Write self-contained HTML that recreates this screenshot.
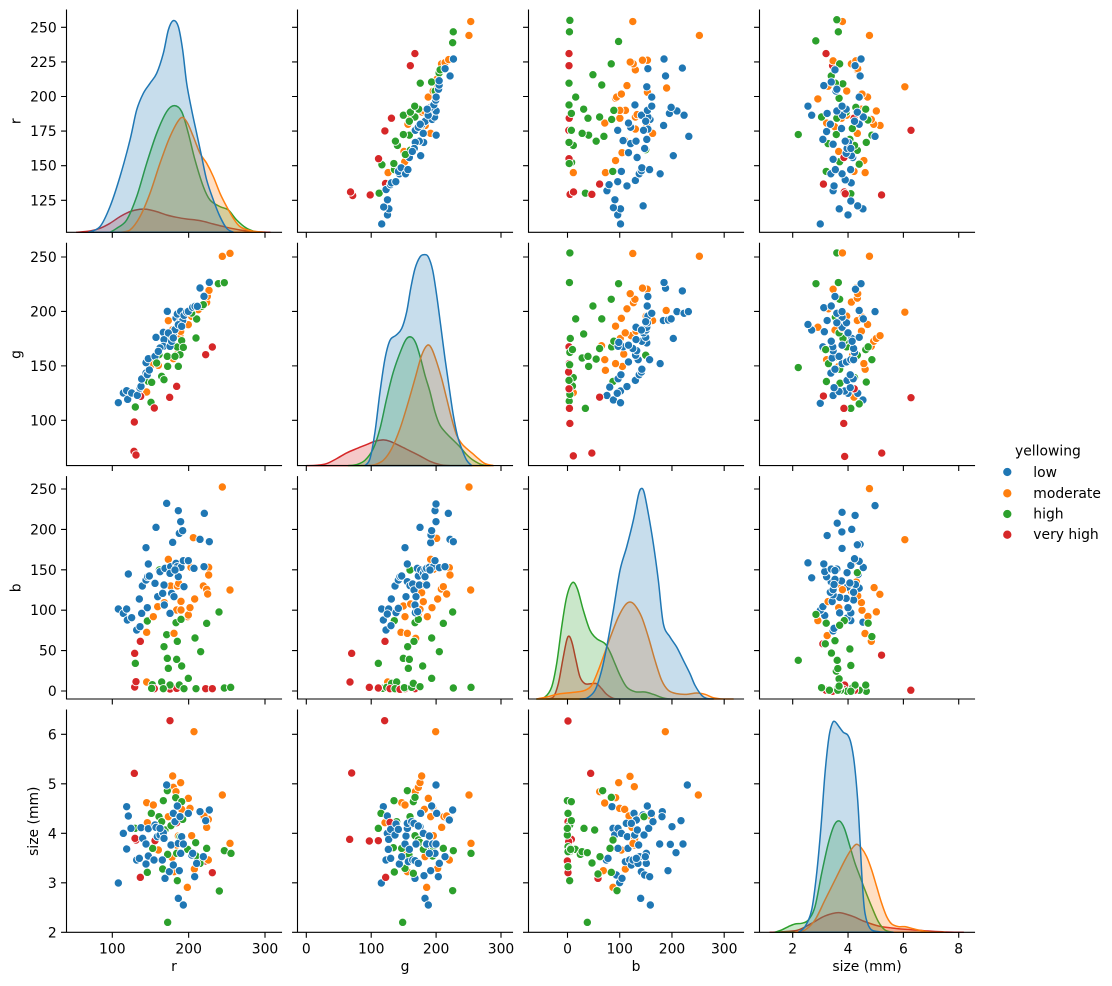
<!DOCTYPE html>
<html>
<head>
<meta charset="utf-8">
<style>
html,body{margin:0;padding:0;background:#fff;}
svg{display:block;}
text{font-family:"DejaVu Sans","Liberation Sans",sans-serif;font-size:13.9px;fill:#000;}
</style>
</head>
<body>
<svg id="c" xmlns="http://www.w3.org/2000/svg" width="1112" height="986" viewBox="0 0 1112 986">
<rect x="0" y="0" width="1112" height="986" fill="#fff"/>
<g id="plot"></g>
<g id="txt">
<!-- row 1 y tick labels -->
<text x="56.7" y="205.3" text-anchor="end">125</text>
<text x="56.7" y="170.7" text-anchor="end">150</text>
<text x="56.7" y="136.1" text-anchor="end">175</text>
<text x="56.7" y="101.5" text-anchor="end">200</text>
<text x="56.7" y="66.9" text-anchor="end">225</text>
<text x="56.7" y="32.3" text-anchor="end">250</text>
<!-- row 2 -->
<text x="56.7" y="425.3" text-anchor="end">100</text>
<text x="56.7" y="370.9" text-anchor="end">150</text>
<text x="56.7" y="316.4" text-anchor="end">200</text>
<text x="56.7" y="262" text-anchor="end">250</text>
<!-- row 3 -->
<text x="56.7" y="696" text-anchor="end">0</text>
<text x="56.7" y="655.6" text-anchor="end">50</text>
<text x="56.7" y="615.2" text-anchor="end">100</text>
<text x="56.7" y="574.8" text-anchor="end">150</text>
<text x="56.7" y="534.4" text-anchor="end">200</text>
<text x="56.7" y="494" text-anchor="end">250</text>
<!-- row 4 -->
<text x="56.7" y="937.3" text-anchor="end">2</text>
<text x="56.7" y="887.8" text-anchor="end">3</text>
<text x="56.7" y="838.3" text-anchor="end">4</text>
<text x="56.7" y="788.8" text-anchor="end">5</text>
<text x="56.7" y="739.3" text-anchor="end">6</text>
<!-- x tick labels -->
<text x="112.3" y="953.4" text-anchor="middle">100</text>
<text x="188.65" y="953.4" text-anchor="middle">200</text>
<text x="265" y="953.4" text-anchor="middle">300</text>
<text x="306.3" y="953.4" text-anchor="middle">0</text>
<text x="371.2" y="953.4" text-anchor="middle">100</text>
<text x="436.1" y="953.4" text-anchor="middle">200</text>
<text x="501" y="953.4" text-anchor="middle">300</text>
<text x="567.5" y="953.4" text-anchor="middle">0</text>
<text x="619.7" y="953.4" text-anchor="middle">100</text>
<text x="672" y="953.4" text-anchor="middle">200</text>
<text x="724.2" y="953.4" text-anchor="middle">300</text>
<text x="792.7" y="953.4" text-anchor="middle">2</text>
<text x="848" y="953.4" text-anchor="middle">4</text>
<text x="903.4" y="953.4" text-anchor="middle">6</text>
<text x="958.7" y="953.4" text-anchor="middle">8</text>
<!-- axis labels -->
<text x="174" y="971" text-anchor="middle">r</text>
<text x="405" y="971" text-anchor="middle">g</text>
<text x="636" y="971" text-anchor="middle">b</text>
<text x="867" y="971" text-anchor="middle">size (mm)</text>
<text x="20.3" y="121.2" text-anchor="middle" transform="rotate(-90 20.3 121.2)">r</text>
<text x="20.3" y="354.5" text-anchor="middle" transform="rotate(-90 20.3 354.5)">g</text>
<text x="20.3" y="587.8" text-anchor="middle" transform="rotate(-90 20.3 587.8)">b</text>
<text x="38" y="821.2" text-anchor="middle" transform="rotate(-90 38 821.2)">size (mm)</text>
<!-- legend -->
<text x="1015" y="455.5">yellowing</text>
<circle cx="1007.3" cy="472" r="4.6" fill="#1f77b4" stroke="#fff" stroke-width="0.9"/>
<circle cx="1007.3" cy="493.3" r="4.6" fill="#ff7f0e" stroke="#fff" stroke-width="0.9"/>
<circle cx="1007.3" cy="514" r="4.6" fill="#2ca02c" stroke="#fff" stroke-width="0.9"/>
<circle cx="1007.3" cy="534.7" r="4.6" fill="#d62728" stroke="#fff" stroke-width="0.9"/>
<text x="1033.3" y="476.9">low</text>
<text x="1033.3" y="497.9">moderate</text>
<text x="1033.3" y="518.5">high</text>
<text x="1033.3" y="539.2">very high</text>
</g>
</svg>
<script>
(function(){
var NS='http://www.w3.org/2000/svg';
var G=document.getElementById('plot');
function el(tag,attrs){var e=document.createElementNS(NS,tag);for(var k in attrs)e.setAttribute(k,attrs[k]);G.appendChild(e);return e;}
var C=['#1f77b4','#ff7f0e','#2ca02c','#d62728'];
var L=[66.5,297.5,528.5,759.5],T=[10,243.3,476.7,710],W=215,H=222.3;
var X=[function(v){return 112.3+(v-100)*0.7635;},function(v){return 306.3+v*0.649;},function(v){return 567.5+v*0.5223;},function(v){return 792.7+(v-2)*27.67;}];
var Xi=[function(p){return 100+(p-112.3)/0.7635;},function(p){return (p-306.3)/0.649;},function(p){return (p-567.5)/0.5223;},function(p){return 2+(p-792.7)/27.67;}];
var Y=[function(v){return 27.3+(250-v)*1.384;},function(v){return 257+(250-v)*1.0887;},function(v){return 691-v*0.808;},function(v){return 932.3-(v-2)*49.5;}];
var Yi=[function(p){return 250-(p-27.3)/1.384;},function(p){return 250-(p-257)/1.0887;},function(p){return (691-p)/0.808;},function(p){return 2+(932.3-p)/49.5;}];
var RT=[[125,150,175,200,225,250],[100,150,200,250],[0,50,100,150,200,250],[2,3,4,5,6]];
var CT=[[100,200,300],[0,100,200,300],[0,100,200,300],[2,4,6,8]];

/* ---------- KDE diagonals ---------- */
var K=[
 {o:[0,0],zb:697,base:232.3,d:[
  [[265,697],[300,680],[330,620],[360,530],[390,420],[410,330],[430,280],[450,250],[470,220],[490,160],[505,90],[520,62],[535,80],[548,150],[560,250],[575,330],[590,400],[605,470],[620,540],[640,600],[660,650],[680,685],[700,697]],
  [[360,697],[390,690],[420,650],[450,580],[480,490],[510,410],[541,355],[560,365],[580,410],[600,460],[620,490],[640,530],[660,580],[680,620],[700,655],[720,680],[750,692],[790,697]],
  [[330,697],[350,685],[380,660],[410,590],[440,490],[470,400],[500,335],[523,317],[545,335],[565,400],[585,480],[610,560],[630,600],[660,620],[685,630],[710,660],[740,685],[770,697]],
  [[230,697],[270,693],[300,685],[330,670],[360,650],[390,635],[420,628],[440,628],[470,635],[500,645],[530,652],[560,657],[600,662],[640,672],[680,682],[720,690],[760,695],[810,697]]
 ]},
 {o:[290,238],zb:681,base:465.6,d:[
  [[225,681],[240,660],[255,580],[270,460],[285,360],[300,305],[318,290],[335,270],[350,220],[362,150],[375,90],[390,55],[403,48],[415,55],[428,95],[440,170],[452,260],[465,360],[478,450],[490,530],[502,590],[515,630],[530,665],[545,681]],
  [[230,681],[255,678],[280,665],[305,630],[330,570],[355,490],[375,420],[395,350],[412,320],[425,330],[440,370],[455,420],[470,480],[485,540],[500,590],[515,615],[530,630],[548,645],[565,660],[585,675],[610,681]],
  [[175,681],[200,678],[225,665],[250,630],[270,570],[290,480],[310,400],[335,330],[350,300],[365,296],[378,315],[392,360],[405,410],[420,460],[435,520],[450,560],[470,585],[490,605],[510,625],[530,648],[550,665],[575,678],[600,681]],
  [[50,681],[80,680],[110,675],[140,660],[170,643],[200,630],[230,618],[255,608],[280,604],[300,608],[330,622],[360,637],[390,652],[420,668],[450,678],[480,681]]
 ]},
 {o:[520,470],zb:686,base:699,d:[
  [[180,686],[200,684],[225,660],[245,600],[262,520],[280,420],[300,300],[320,230],[340,150],[355,75],[363,55],[372,65],[385,130],[400,220],[415,330],[430,460],[450,500],[470,530],[490,570],[510,610],[525,645],[545,675],[560,684],[580,686]],
  [[50,686],[80,680],[110,672],[140,668],[170,665],[195,660],[215,645],[235,600],[255,545],[275,490],[295,440],[315,405],[330,395],[345,405],[365,440],[385,500],[405,570],[425,630],[445,660],[470,670],[500,672],[530,668],[555,672],[580,682],[610,686],[640,686]],
  [[50,686],[75,680],[95,650],[110,580],[125,470],[140,380],[157,337],[172,355],[190,420],[210,480],[230,505],[255,520],[270,545],[285,580],[300,615],[320,650],[345,664],[375,665],[400,672],[430,683],[450,686]],
  [[80,686],[100,680],[115,640],[128,570],[140,510],[148,498],[157,520],[168,570],[180,620],[195,640],[215,640],[230,640],[245,655],[260,672],[280,684],[300,686]]
 ]},
 {o:[745,700],zb:697,base:932.3,d:[
  [[160,697],[180,680],[200,630],[215,520],[228,380],[240,220],[252,110],[262,70],[270,65],[282,80],[295,97],[308,105],[318,130],[328,190],[338,300],[345,420],[352,550],[360,640],[375,685],[400,695],[445,697]],
  [[150,697],[180,690],[210,660],[240,600],[270,540],[300,480],[320,447],[335,433],[350,445],[365,470],[380,510],[395,560],[410,610],[425,650],[440,672],[460,680],[480,680],[500,685],[520,690],[560,697],[600,697]],
  [[90,697],[110,690],[130,680],[150,672],[170,670],[190,660],[210,620],[230,520],[250,430],[268,375],[283,363],[298,385],[315,440],[330,490],[345,530],[360,570],[380,620],[400,665],[420,690],[445,697]],
  [[75,697],[120,695],[160,690],[200,670],[240,648],[280,638],[320,648],[360,665],[400,678],[440,684],[480,688],[520,691],[560,694],[600,696],[655,697]]
 ]}
];
function smooth(pts,base){
 var d='M'+pts[0][0].toFixed(2)+','+pts[0][1].toFixed(2);
 for(var k=0;k<pts.length-1;k++){
  var p0=pts[k-1]||pts[k],p1=pts[k],p2=pts[k+1],p3=pts[k+2]||p2;
  var c1x=p1[0]+(p2[0]-p0[0])/6,c1y=Math.min(base,p1[1]+(p2[1]-p0[1])/6);
  var c2x=p2[0]-(p3[0]-p1[0])/6,c2y=Math.min(base,p2[1]-(p3[1]-p1[1])/6);
  d+='C'+c1x.toFixed(2)+','+c1y.toFixed(2)+' '+c2x.toFixed(2)+','+c2y.toFixed(2)+' '+p2[0].toFixed(2)+','+p2[1].toFixed(2);
 }
 return d+'Z';
}
var order=[3,2,1,0];
K.forEach(function(k){
 order.forEach(function(c){
  var pts=k.d[c].map(function(p){return [k.o[0]+p[0]/3, Math.min(k.base, k.base-(k.zb-p[1])/3)];});
  pts[0][1]=k.base;pts[pts.length-1][1]=k.base;
  el('path',{d:smooth(pts,k.base),fill:C[c],'fill-opacity':0.25,stroke:C[c],'stroke-width':1.5,'stroke-linejoin':'round'});
 });
});

/* ---------- scatter ---------- */
var P={
'1,0':{o:[60,238],d:[
[[175,494],[190,465],[200,458],[203,484],[215,465],[232,472],[240,450],[243,445],[245,423],[258,405],[262,410],[268,396],[258,374],[265,362],[285,355],[288,298],[310,283],[312,305],[310,325],[322,220],[330,325],[335,310],[340,290],[345,275],[348,240],[352,228],[358,255],[362,220],[368,248],[372,232],[380,222],[385,220],[398,208],[405,205],[412,205],[420,150],[432,175],[448,133],[325,285],[300,330],[295,340],[340,300],[355,260],[365,265]],
[[260,462],[278,378],[295,382],[325,248],[338,275],[340,362],[350,350],[360,290],[362,280],[365,250],[370,245],[385,260],[395,235],[403,213],[415,215],[440,193],[442,175],[447,157],[487,55],[510,46]],
[[226,507],[265,430],[275,433],[273,493],[305,415],[312,425],[297,350],[322,355],[323,385],[333,300],[352,327],[355,385],[360,350],[365,308],[370,328],[408,300],[410,243],[425,205],[430,200],[475,137],[493,134],[290,375],[345,355],[395,225]],
[[223,552],[222,640],[228,651],[242,475],[283,510],[329,478],[350,445],[437,350],[457,327]]
]},
'2,0':{o:[60,470],d:[
[[175,417],[190,430],[200,417],[202,450],[215,443],[230,480],[240,470],[245,430],[238,387],[247,348],[258,330],[263,320],[268,318],[265,282],[258,233],[288,172],[205,312],[262,413],[285,340],[293,380],[300,305],[308,370],[312,345],[313,405],[315,295],[320,100],[330,430],[332,290],[335,370],[338,217],[342,380],[348,280],[352,290],[355,122],[355,320],[358,190],[362,155],[363,292],[368,182],[370,272],[372,350],[385,272],[402,295],[420,208],[432,290],[433,130],[448,215],[330,310],[345,300]],
[[260,487],[260,636],[280,440],[293,410],[313,398],[325,268],[332,348],[337,295],[342,490],[350,420],[352,348],[356,340],[363,394],[363,420],[383,440],[385,435],[390,413],[393,292],[400,203],[404,387],[430,348],[440,358],[443,372],[446,292],[446,315],[487,51],[510,360]],
[[226,580],[262,453],[277,644],[298,300],[305,636],[312,530],[320,494],[322,565],[325,595],[330,645],[348,458],[350,568],[352,514],[358,645],[363,448],[365,588],[372,656],[385,625],[405,504],[408,656],[422,545],[440,460],[477,426],[493,654],[512,652],[275,655],[310,656]],
[[224,651],[228,635],[224,550],[241,514],[283,656],[330,657],[350,655],[437,656],[457,656]]
]},
'3,0':{o:[60,700],d:[
[[175,549],[190,400],[200,447],[200,320],[205,348],[213,385],[230,480],[238,475],[243,383],[248,415],[258,492],[258,432],[265,468],[265,386],[283,480],[285,375],[288,382],[292,410],[300,405],[307,480],[310,398],[312,415],[315,535],[320,255],[328,515],[333,435],[340,340],[345,365],[352,318],[355,430],[358,512],[360,350],[362,460],[365,410],[370,432],[385,340],[395,465],[398,460],[404,530],[410,490],[420,335],[430,470],[437,362],[448,330],[355,595],[370,615],[340,495],[300,385],[282,480]],
[[260,308],[280,315],[262,368],[295,450],[325,350],[336,472],[338,228],[340,262],[342,515],[348,275],[350,435],[355,408],[362,248],[365,328],[385,295],[390,325],[382,562],[395,407],[402,95],[403,507],[430,350],[440,382],[445,358],[445,480],[487,285],[510,430],[432,348]],
[[225,385],[262,517],[274,340],[278,445],[297,350],[305,365],[310,302],[308,507],[315,390],[322,272],[323,463],[323,667],[333,377],[347,293],[350,460],[352,542],[360,410],[365,305],[368,358],[383,448],[407,428],[408,468],[420,490],[440,445],[478,573],[493,452],[513,460]],
[[223,220],[228,420],[225,415],[241,532],[285,422],[330,62],[350,368],[437,483],[457,518]]
]},
'2,1':{o:[290,470],d:[
[[288,480],[280,450],[275,417],[296,417],[292,432],[303,467],[304,387],[315,348],[318,428],[325,330],[325,415],[330,320],[335,318],[345,233],[348,380],[352,282],[352,335],[360,347],[368,342],[372,360],[375,405],[376,428],[378,380],[382,295],[385,318],[388,345],[390,172],[392,300],[400,310],[405,298],[410,345],[410,295],[418,292],[422,218],[423,195],[425,182],[430,290],[435,272],[438,155],[435,122],[438,102],[448,293],[465,290],[475,130],[480,208],[490,215],[383,425],[405,320],[420,300]],
[[293,636],[333,487],[340,408],[345,440],[352,490],[362,402],[377,505],[385,430],[390,418],[395,368],[400,395],[403,345],[410,345],[412,440],[405,297],[422,268],[426,413],[430,298],[440,205],[443,387],[454,357],[460,350],[470,372],[478,293],[480,315],[537,51],[542,360]],
[[265,580],[278,655],[290,652],[305,640],[313,452],[320,636],[315,656],[340,565],[343,653],[355,595],[353,530],[358,568],[360,300],[365,652],[370,640],[372,514],[375,458],[385,448],[390,650],[398,588],[425,504],[425,625],[448,545],[460,460],[488,426],[490,654],[543,652]],
[[180,636],[185,550],[238,652],[265,654],[285,514],[300,656],[330,658],[345,656],[375,656]]
]},
'3,1':{o:[290,700],d:[
[[274,549],[280,320],[288,480],[292,348],[292,400],[296,418],[295,448],[302,475],[302,388],[315,405],[318,372],[325,388],[328,492],[335,470],[345,432],[348,408],[352,385],[352,370],[355,485],[358,448],[365,365],[368,480],[372,370],[375,535],[375,482],[378,432],[385,490],[390,380],[392,340],[400,400],[402,527],[405,595],[410,432],[415,615],[418,408],[422,512],[425,318],[428,432],[435,460],[438,432],[440,340],[445,530],[448,490],[465,470],[478,360],[488,330],[438,255],[385,378],[418,460]],
[[285,368],[335,308],[340,450],[345,315],[352,515],[360,375],[376,275],[385,262],[390,248],[395,228],[403,328],[405,470],[410,562],[415,295],[422,350],[428,323],[430,407],[437,95],[443,505],[455,382],[462,350],[470,348],[478,480],[480,358],[537,285],[543,430],[408,432]],
[[265,385],[273,340],[312,302],[313,516],[310,443],[320,365],[335,445],[345,505],[352,272],[357,465],[360,350],[370,305],[373,535],[375,292],[375,407],[385,420],[390,427],[400,448],[425,448],[428,468],[460,445],[488,572],[490,452],[543,460],[338,667],[370,520],[430,440]],
[[179,418],[185,219],[238,423],[265,422],[284,62],[287,532],[300,367]]
]},
'3,2':{o:[518,700],d:[
[[282,320],[285,385],[290,405],[295,525],[300,385],[305,548],[310,400],[312,535],[300,445],[265,480],[270,475],[325,370],[328,410],[322,485],[330,445],[335,480],[340,495],[345,480],[348,340],[350,405],[355,360],[358,390],[360,490],[362,435],[365,470],[368,595],[370,515],[375,345],[378,405],[380,525],[385,460],[385,490],[388,318],[392,385],[395,530],[397,615],[400,340],[405,365],[382,470],[425,432],[433,335],[432,350],[450,512],[457,433],[462,380],[474,458],[489,362],[495,432],[508,255],[340,370],[355,475]],
[[245,275],[256,512],[260,309],[285,562],[293,293],[302,248],[305,325],[310,450],[320,328],[322,507],[333,348],[336,229],[342,382],[349,260],[350,415],[350,435],[360,355],[383,472],[400,350],[442,95],[541,285],[345,430]],
[[148,302],[150,340],[152,365],[155,375],[160,362],[148,405],[150,440],[155,455],[157,445],[150,500],[155,542],[148,385],[160,305],[172,448],[187,463],[198,385],[192,455],[208,458],[222,489],[230,390],[240,522],[246,470],[254,272],[280,292],[280,517],[285,420],[276,445],[297,572],[378,350],[208,667],[150,455],[158,448]],
[[150,63],[218,220],[150,365],[160,418],[152,425],[148,483],[150,518],[240,535]]
]}
};
function dot(x,y,c){el('circle',{cx:x.toFixed(2),cy:y.toFixed(2),r:4.15,fill:C[c],stroke:'#fff','stroke-width':0.9});}
for(var key in P){
 var ij=key.split(',').map(Number),i=ij[0],j=ij[1],o=P[key].o,d=P[key].d;
 var n=Math.max(d[0].length,d[1].length,d[2].length,d[3].length);
 for(var k=0;k<n;k++){
  for(var c=0;c<4;c++){
   var p=d[c][k]; if(!p) continue;
   var px=o[0]+p[0]/3, py=o[1]+p[1]/3;
   dot(px,py,c);
   var vj=Xi[j](px), vi=Yi[i](py);
   dot(X[i](vi),Y[j](vj),c);
  }
 }
}

/* ---------- spines & ticks ---------- */
for(var i2=0;i2<4;i2++)for(var j2=0;j2<4;j2++){
 var b=T[i2]+H;
 var s='M'+L[j2]+','+T[i2]+'V'+b+'H'+(L[j2]+W);
 RT[i2].forEach(function(v){s+='M'+(L[j2]-4.9)+','+Y[i2](v).toFixed(2)+'H'+L[j2];});
 CT[j2].forEach(function(v){s+='M'+X[j2](v).toFixed(2)+','+b+'v4.9';});
 el('path',{d:s,stroke:'#000','stroke-width':1.1,fill:'none','stroke-linecap':'square'});
}
})();
</script>
</body>
</html>
